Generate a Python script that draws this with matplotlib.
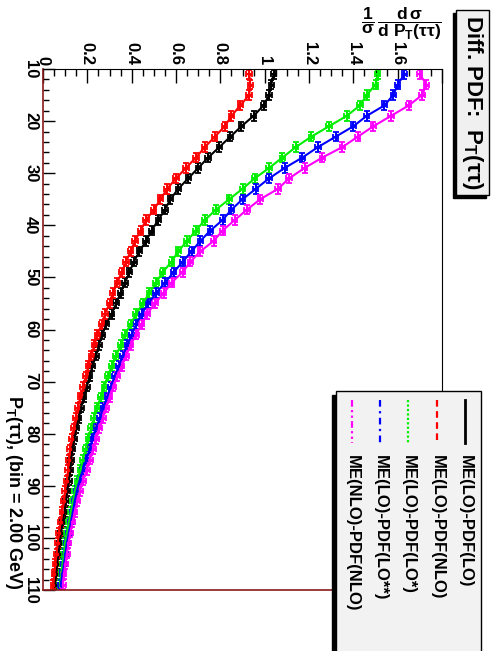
# coding=utf-8
""" rotated ROOT style plot: differential PDF of P_T(tautau) """

import matplotlib
matplotlib.use('Agg')
import matplotlib.pyplot as plt
from matplotlib.patches import Rectangle
from matplotlib.lines import Line2D
from matplotlib.ticker import MultipleLocator, FuncFormatter

plt.rcParams['font.family'] = ['Liberation Sans', 'DejaVu Sans']
plt.rcParams['font.weight'] = 'bold'
plt.rcParams['mathtext.fontset'] = 'custom'
plt.rcParams['mathtext.rm'] = 'Liberation Sans:bold'
plt.rcParams['mathtext.it'] = 'Liberation Sans:bold'
plt.rcParams['mathtext.bf'] = 'Liberation Sans:bold'

########## DATA ##########
# bin centres, bin = 2 GeV
pt = list(range(11, 110, 2))

lo_lo = [1.04, 1.03, 1.02, 0.995, 0.95, 0.895, 0.845, 0.795, 0.745, 0.70,
         0.655, 0.61, 0.575, 0.55, 0.52, 0.49, 0.465, 0.435, 0.41, 0.39,
         0.37, 0.35, 0.33, 0.31, 0.285, 0.268, 0.252, 0.24, 0.223, 0.21,
         0.198, 0.184, 0.172, 0.161, 0.151, 0.142, 0.133, 0.127, 0.124, 0.117,
         0.110, 0.104, 0.097, 0.089, 0.081, 0.075, 0.070, 0.064, 0.059, 0.055]
lo_nlo = [0.93, 0.935, 0.93, 0.89, 0.85, 0.82, 0.775, 0.73, 0.69, 0.645,
          0.60, 0.56, 0.53, 0.50, 0.465, 0.44, 0.415, 0.395, 0.375, 0.355,
          0.335, 0.315, 0.30, 0.28, 0.265, 0.245, 0.232, 0.218, 0.205, 0.193,
          0.181, 0.169, 0.157, 0.147, 0.138, 0.129, 0.122, 0.117, 0.113, 0.107,
          0.099, 0.093, 0.087, 0.080, 0.072, 0.066, 0.061, 0.056, 0.051, 0.047]
lo_los = [1.51, 1.50, 1.46, 1.43, 1.37, 1.29, 1.21, 1.14, 1.08, 1.02,
          0.955, 0.90, 0.84, 0.78, 0.73, 0.69, 0.65, 0.61, 0.58, 0.54,
          0.51, 0.48, 0.45, 0.42, 0.395, 0.37, 0.35, 0.33, 0.31, 0.292,
          0.276, 0.26, 0.245, 0.23, 0.217, 0.204, 0.192, 0.18, 0.168, 0.155,
          0.144, 0.135, 0.126, 0.117, 0.108, 0.100, 0.093, 0.088, 0.082, 0.077]
lo_loss = [1.63, 1.60, 1.58, 1.54, 1.46, 1.40, 1.32, 1.24, 1.17, 1.09,
           1.02, 0.96, 0.90, 0.85, 0.81, 0.755, 0.71, 0.67, 0.63, 0.59,
           0.55, 0.51, 0.475, 0.445, 0.42, 0.40, 0.38, 0.36, 0.342, 0.323,
           0.305, 0.29, 0.272, 0.256, 0.238, 0.223, 0.21, 0.196, 0.18, 0.165,
           0.153, 0.143, 0.135, 0.126, 0.117, 0.108, 0.101, 0.095, 0.087, 0.08]
nlo_nlo = [1.70, 1.73, 1.71, 1.65, 1.57, 1.49, 1.42, 1.35, 1.26, 1.18,
           1.11, 1.06, 0.98, 0.92, 0.865, 0.81, 0.77, 0.71, 0.665, 0.63,
           0.58, 0.545, 0.505, 0.47, 0.445, 0.42, 0.395, 0.375, 0.355, 0.335,
           0.318, 0.30, 0.285, 0.27, 0.253, 0.24, 0.226, 0.212, 0.198, 0.18,
           0.167, 0.155, 0.143, 0.133, 0.123, 0.115, 0.108, 0.101, 0.094, 0.09]
val_err = 0.012

labels = ['ME(LO)-PDF(LO)', 'ME(LO)-PDF(NLO)', 'ME(LO)-PDF(LO*)',
          'ME(LO)-PDF(LO**)', 'ME(NLO)-PDF(NLO)']

series = [lo_lo, lo_nlo, lo_los, lo_loss, nlo_nlo]
colors = ['black', '#ff0000', '#00ee00', '#0000ff', '#ff00ff']
styles = ['-', (0, (3, 2)), (0, (1, 1)), (0, (3, 2, 1, 2)),
          (0, (3, 1.5, 1, 1.5, 1, 1.5))]

W, H = 496.0, 651.0

########## PLOT ##########
fig = plt.figure(figsize=(W / 100, H / 100), dpi=100)
ax = fig.add_axes([43 / W, 1 - 590 / H, 399 / W, 521 / H])

for vals, col in zip(series, colors):
    ax.errorbar(vals, pt, xerr=val_err, yerr=0.9, color=col, lw=1.5,
                elinewidth=1.5, capsize=2, capthick=1.3,
                marker='s', ms=1.8)

ax.set_xlim(0, 1.8)
ax.set_ylim(110, 10)

ax.xaxis.tick_top()
ax.xaxis.set_major_locator(MultipleLocator(0.2))
ax.xaxis.set_minor_locator(MultipleLocator(0.05))
ax.xaxis.set_major_formatter(FuncFormatter(lambda v, p: '' if v > 1.7 else '%g' % round(v, 2)))
ax.yaxis.set_major_locator(MultipleLocator(10))
ax.yaxis.set_minor_locator(MultipleLocator(2))
ax.yaxis.set_major_formatter(FuncFormatter(lambda v, p: '%d' % v))

ax.tick_params(axis='x', which='major', direction='in', length=10, width=1,
               top=True, bottom=False, labeltop=True, labelbottom=False,
               labelrotation=-90, pad=3, labelsize=12)
ax.tick_params(axis='x', which='minor', direction='in', length=5, width=1,
               top=True, bottom=False)
ax.tick_params(axis='y', which='major', direction='in', length=8.5, width=1,
               left=True, right=False, labelrotation=-90, pad=3.5, labelsize=12)
ax.tick_params(axis='y', which='minor', direction='in', length=4.5, width=1,
               left=True, right=False)
for lab in ax.get_yticklabels():
    lab.set_va('center')

ax.spines['left'].set_color('#8a1a1a')
ax.spines['bottom'].set_color('#8a1a1a')
ax.spines['left'].set_linewidth(1.2)
ax.spines['bottom'].set_linewidth(1.2)

# axis titles
fig.text(13 / W, 1 - 590 / H, r'P$_\mathrm{T}$(ττ), (bin = 2.00 GeV)',
         rotation=-90, ha='center', va='bottom', fontsize=13, fontweight='bold')
fig.text(442 / W, 1 - 24 / H,
         r'$\dfrac{1}{\sigma}\,\dfrac{d\,\sigma}{d\ P_\mathrm{T}(\tau\tau)}$',
         ha='right', va='center', fontsize=12.5)

# title box
fig.patches.append(Rectangle((453 / W, 1 - 198 / H), 33 / W, 185 / H,
                             transform=fig.transFigure, fc='black', ec='black'))
fig.patches.append(Rectangle((456 / W, 1 - 195 / H), 33 / W, 185 / H,
                             transform=fig.transFigure, fc='#f0f0f0', ec='black', lw=1))
fig.text(472.5 / W, 1 - 102.5 / H, r'Diff. PDF:  P$_\mathrm{T}$(ττ)',
         rotation=-90, ha='center', va='center', fontsize=16, fontweight='bold')

# legend box
fig.patches.append(Rectangle((332 / W, -0.05), 4 / W, 0.05 + 1 - 395 / H,
                             transform=fig.transFigure, fc='black', ec='black'))
fig.patches.append(Rectangle((336 / W, -0.05), 145 / W, 0.05 + 1 - 391 / H,
                             transform=fig.transFigure, fc='#f2f2f2', ec='black', lw=1))
xs = [465, 437, 408, 380, 352]
for xc, lab, col, ls in zip(xs, labels, colors, styles):
    lw = 2.0 if ls == '-' else 1.6
    fig.lines.append(Line2D([xc / W, xc / W], [1 - 400 / H, 1 - 443 / H],
                            transform=fig.transFigure, color=col, ls=ls, lw=lw))
    fig.text(xc / W, 1 - 455 / H, lab, rotation=-90, ha='center', va='top',
             fontsize=12, fontweight='bold')

fig.savefig('out.png', dpi=100)
